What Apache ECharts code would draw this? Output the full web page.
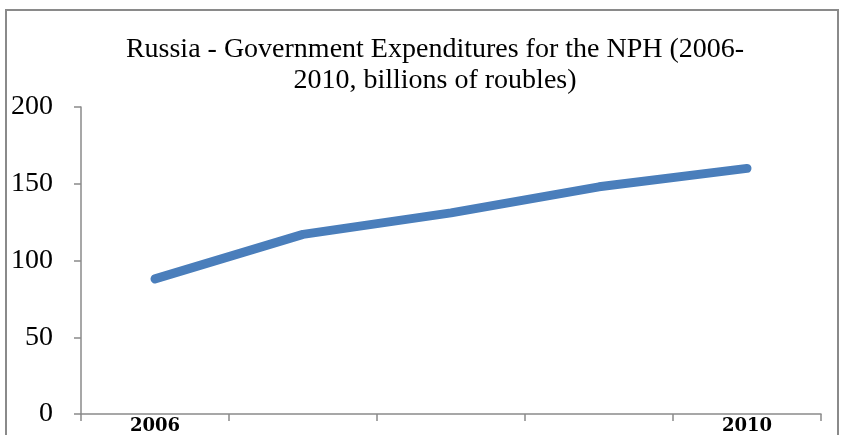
<!DOCTYPE html>
<html>
<head>
<meta charset="utf-8">
<script src="https://cdn.jsdelivr.net/npm/echarts@6/dist/echarts.min.js"></script>
<style>
  html, body { margin: 0; padding: 0; background: #fff; }
  #chart { width: 841px; height: 435px; }
</style>
</head>
<body>
<div id="chart"></div>
<script>
// Government spending on the national priority projects, 2006–2010
const years = ['2006', '2007', '2008', '2009', '2010'];
const expenditures = [88, 117, 131, 148, 160];
const yTicks = [0, 50, 100, 150, 200];
const shownYears = ['2006', '2010'];

const chart = echarts.init(document.getElementById('chart'));
chart.setOption({
  animation: false,
  backgroundColor: '#ffffff',
  title: {
    text: 'Russia - Government Expenditures for the NPH (2006-\n2010, billions of roubles)',
    left: 430,
    top: 29,
    textAlign: 'center',
    textStyle: {
      fontFamily: 'Liberation Serif',
      fontWeight: 'normal',
      fontSize: 28,
      lineHeight: 31,
      color: '#000'
    }
  },
  graphic: [{
    type: 'rect',
    shape: { x: 6, y: 10, width: 832, height: 440 },
    style: { fill: 'none', stroke: '#8a8a8a', lineWidth: 2 },
    silent: true
  }],
  grid: { left: 81, right: 20, top: 107, bottom: 18, containLabel: false },
  xAxis: {
    type: 'category',
    data: years,
    boundaryGap: true,
    axisLine: { lineStyle: { color: '#8a8a8a', width: 1.5 } },
    axisTick: { show: true, interval: 0, length: 7, lineStyle: { color: '#8a8a8a', width: 1.5 } },
    axisLabel: {
      interval: 0,
      margin: 3,
      formatter: v => shownYears.includes(v) ? v : '',
      fontFamily: 'DejaVu Serif',
      fontWeight: 'bold',
      fontSize: 18,
      color: '#000'
    },
    splitLine: { show: false }
  },
  yAxis: {
    type: 'value',
    min: yTicks[0],
    max: yTicks[yTicks.length - 1],
    interval: yTicks[1] - yTicks[0],
    axisLine: { show: true, lineStyle: { color: '#8a8a8a', width: 1.5 } },
    axisTick: { show: true, length: 7, lineStyle: { color: '#8a8a8a', width: 1.5 } },
    axisLabel: {
      margin: 28,
      fontFamily: 'Liberation Serif',
      fontSize: 28,
      color: '#000'
    },
    splitLine: { show: false }
  },
  series: [{
    type: 'line',
    data: expenditures,
    showSymbol: false,
    smooth: false,
    lineStyle: { color: '#4a7ebb', width: 9, cap: 'round', join: 'round' }
  }]
});
</script>
</body>
</html>
